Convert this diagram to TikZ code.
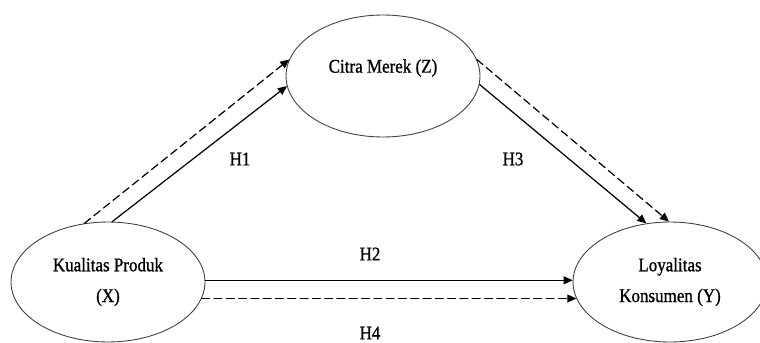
\documentclass[tikz,border=0pt]{standalone}
\usepackage{fontspec}
\setmainfont{Liberation Serif}[FakeStretch=0.88,FakeBold=1]
\usetikzlibrary{arrows.meta,positioning,shapes.geometric}

\begin{document}
\begin{tikzpicture}[x=0.02cm,y=0.02cm,line cap=round,line join=round,
  konstruk/.style={draw=black!75,line width=.5pt,ellipse,inner sep=0pt,
    minimum width=3.88cm,minimum height=2.4cm,align=center,
    font=\fontsize{11}{17.5}\selectfont},
  lbl/.style={font=\fontsize{11}{13}\selectfont,inner sep=1pt},
  jalur/.style={line width=.7pt,-{Triangle[length=1.8mm,width=1.6mm]}},
  putus/.style={jalur,dash pattern=on 4.5pt off 2.5pt}]
\path[use as bounding box] (0,0) rectangle (760,342);
% konstruk
\node[konstruk] (X) at (108,60) {Kualitas Produk\\(X)};
\node[konstruk,minimum height=2.44cm] (Z) at (383,266) {};
\node[lbl] (zt) at (383,274) {Citra Merek (Z)};
\node[konstruk] (Y) at (670,60) {Loyalitas\\Konsumen (Y)};
% jalur
\draw[jalur] (X.86) -- (Z.186);
\draw[putus] (X.112.6) -- (Z.170);
\draw[jalur] (Z.-5.3) -- (Y.112);
\draw[putus] (Z.10.7) -- (Y.91);
\draw[jalur] (X.1) -- (Y.179);
\draw[putus] (X.-10.4) -- (Y.190.4);
% label hipotesis
\node[lbl] (h1) at (240,183) {H1};
\node[lbl] (h3) at (513,183) {H3};
\node[lbl] (h2) at (370,88) {H2};
\node[lbl] (h4) at (370,9) {H4};
\end{tikzpicture}
\end{document}
